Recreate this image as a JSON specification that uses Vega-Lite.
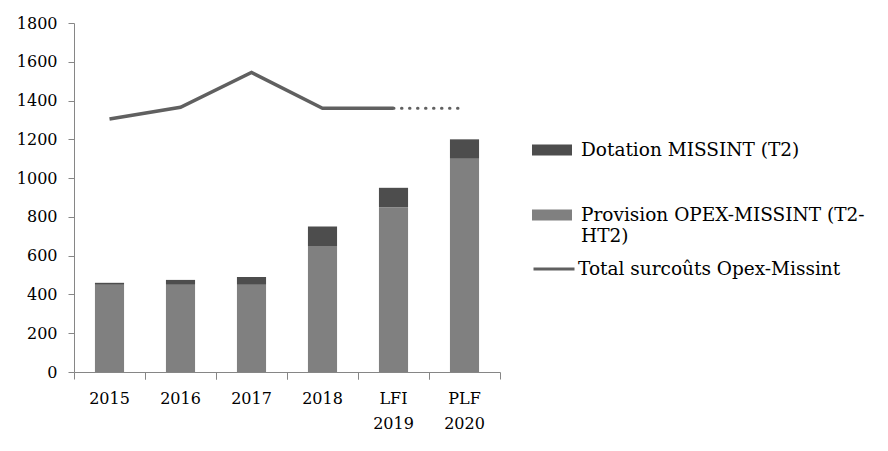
{
  "$schema": "https://vega.github.io/schema/vega-lite/v6.json",
  "width": 426,
  "height": 349,
  "autosize": {"type": "none"},
  "padding": {"left": 74, "top": 23, "right": 388, "bottom": 79},
  "background": "white",
  "config": {
    "view": {"stroke": null},
    "font": "DejaVu Serif",
    "axis": {"labelFont": "DejaVu Serif", "labelFontSize": 16, "labelColor": "#000000", "domainColor": "#868686", "tickColor": "#868686", "grid": false, "title": null},
    "legend": {"labelFont": "DejaVu Serif", "labelFontSize": 18.5, "labelColor": "#000000", "title": null}
  },
  "datasets": {
    "bars": [
      {"cat": "2015", "series": "Provision OPEX-MISSINT (T2-HT2)", "value": 450},
      {"cat": "2015", "series": "Dotation MISSINT (T2)", "value": 10},
      {"cat": "2016", "series": "Provision OPEX-MISSINT (T2-HT2)", "value": 450},
      {"cat": "2016", "series": "Dotation MISSINT (T2)", "value": 25},
      {"cat": "2017", "series": "Provision OPEX-MISSINT (T2-HT2)", "value": 450},
      {"cat": "2017", "series": "Dotation MISSINT (T2)", "value": 40},
      {"cat": "2018", "series": "Provision OPEX-MISSINT (T2-HT2)", "value": 650},
      {"cat": "2018", "series": "Dotation MISSINT (T2)", "value": 100},
      {"cat": "LFI 2019", "series": "Provision OPEX-MISSINT (T2-HT2)", "value": 850},
      {"cat": "LFI 2019", "series": "Dotation MISSINT (T2)", "value": 100},
      {"cat": "PLF 2020", "series": "Provision OPEX-MISSINT (T2-HT2)", "value": 1100},
      {"cat": "PLF 2020", "series": "Dotation MISSINT (T2)", "value": 100}
    ],
    "total": [
      {"cat": "2015", "series": "Total surcoûts Opex-Missint", "total": 1305, "seg": "solid"},
      {"cat": "2016", "series": "Total surcoûts Opex-Missint", "total": 1365, "seg": "solid"},
      {"cat": "2017", "series": "Total surcoûts Opex-Missint", "total": 1545, "seg": "solid"},
      {"cat": "2018", "series": "Total surcoûts Opex-Missint", "total": 1360, "seg": "solid"},
      {"cat": "LFI 2019", "series": "Total surcoûts Opex-Missint", "total": 1360, "seg": "solid"},
      {"cat": "LFI 2019", "series": "Total surcoûts Opex-Missint", "total": 1360, "seg": "dotted"},
      {"cat": "PLF 2020", "series": "Total surcoûts Opex-Missint", "total": 1360, "seg": "dotted"}
    ]
  },
  "resolve": {"axis": {"x": "independent"}},
  "layer": [
    {
      "data": {"name": "bars"},
      "mark": {"type": "bar", "width": {"band": 0.41}},
      "encoding": {
        "x": {"field": "cat", "type": "nominal", "scale": {"paddingInner": 0, "paddingOuter": 0},
              "axis": {"orient": "bottom", "ticks": false, "labelAngle": 0, "labelPadding": 18, "labelLineHeight": 25, "labelExpr": "split(datum.label, ' ')", "domainWidth": 1}},
        "y": {"field": "value", "type": "quantitative", "stack": "zero", "scale": {"domain": [0, 1800], "nice": false},
              "axis": {"orient": "left", "values": [0, 200, 400, 600, 800, 1000, 1200, 1400, 1600, 1800], "format": "d", "tickSize": 6, "labelPadding": 11}},
        "fill": {"field": "series", "type": "nominal",
                 "scale": {"domain": ["Dotation MISSINT (T2)", "Provision OPEX-MISSINT (T2-HT2)"], "range": ["#4d4d4d", "#808080"]},
                 "legend": {"orient": "none", "legendX": 458, "legendY": 107, "symbolType": "M-1,-0.275H1V0.275H-1Z", "symbolSize": 1600, "symbolStrokeWidth": 0, "labelOffset": 9, "rowPadding": 35, "labelLimit": 400,
                            "labelExpr": "datum.label == 'Provision OPEX-MISSINT (T2-HT2)' ? ['Provision OPEX-MISSINT (T2-', 'HT2)'] : datum.label"}},
        "order": {"field": "series", "sort": "descending"}
      }
    },
    {
      "data": {"name": "total"},
      "transform": [{"filter": "datum.seg == 'solid'"}],
      "mark": {"type": "line", "strokeWidth": 3.5},
      "encoding": {
        "x": {"field": "cat", "type": "nominal",
              "axis": {"orient": "bottom", "labels": false, "domain": false, "ticks": true, "tickSize": 7, "bandPosition": 0}},
        "y": {"field": "total", "type": "quantitative",
              "axis": {"orient": "left", "values": [0, 200, 400, 600, 800, 1000, 1200, 1400, 1600, 1800], "format": "d", "tickSize": 6, "labelPadding": 11}},
        "stroke": {"field": "series", "type": "nominal", "scale": {"range": ["#606060"]},
                   "legend": {"orient": "none", "legendX": 458, "legendY": 224, "symbolType": "stroke", "symbolSize": 1681, "symbolStrokeWidth": 3, "labelOffset": 2, "labelLimit": 400}}
      }
    },
    {
      "data": {"name": "total"},
      "transform": [{"filter": "datum.seg == 'dotted'"}],
      "mark": {"type": "line", "strokeWidth": 3, "strokeDash": [0.5, 7.5], "strokeCap": "round"},
      "encoding": {
        "x": {"field": "cat", "type": "nominal",
              "axis": {"orient": "bottom", "labels": false, "domain": false, "ticks": true, "tickSize": 7, "bandPosition": 1}},
        "y": {"field": "total", "type": "quantitative",
              "axis": {"orient": "left", "values": [0, 200, 400, 600, 800, 1000, 1200, 1400, 1600, 1800], "format": "d", "tickSize": 6, "labelPadding": 11}},
        "stroke": {"field": "series", "type": "nominal"}
      }
    }
  ]
}
